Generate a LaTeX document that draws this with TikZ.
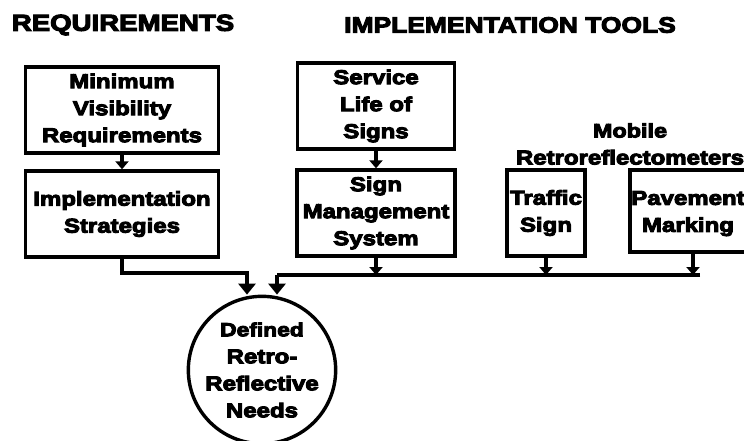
\documentclass[tikz,border=0pt]{standalone}
\usepackage{fontspec}
\usepackage{tikz}
\usetikzlibrary{arrows.meta}
\newfontfamily\heavy[FakeBold=5,FakeStretch=1.2]{Liberation Sans Bold}
\tikzset{
  font={\heavy\fontsize{20pt}{27pt}\selectfont}}

\begin{document}
\begin{tikzpicture}[x=1pt,y=-1pt,line width=3.4pt]
\tikzstyle{every node}+=[inner sep=0pt,align=center]
\tikzstyle{block}=[draw,black,minimum height=86pt]
\tikzstyle{feed}=[-{Triangle[width=13pt,length=8pt]}]
\tikzstyle{merge}=[-{Triangle[width=17pt,length=11pt]}]
\useasboundingbox (0,0) rectangle (744,440);
% headings
\node (req) at (123,25) {\fontsize{23pt}{23pt}\selectfont REQUIREMENTS};
\node (tools) at (510,25) {\fontsize{22pt}{22pt}\selectfont IMPLEMENTATION TOOLS};
% requirements column
\node[block,minimum width=193pt] (minvis) at (122,110) {Minimum\\Visibility\\Requirements};
\node[block,minimum width=193pt] (strat) at (122,214) {Implementation\\Strategies};
% tools columns
\node[block,minimum width=157pt] (life) at (376,106) {Service\\Life of\\Signs};
\node[block,minimum width=158pt] (sms) at (376,213) {Sign\\Management\\System};
\node (mobile) at (630,144) {\fontsize{19.5pt}{23pt}\selectfont Mobile\\Retroreflectometers};
\node[block,minimum width=78pt] (traffic) at (546,213) {Traffic\\Sign};
\node[block,minimum width=116pt,minimum height=82pt] (pave) at (688,211) {\strut Pavement\\Marking};
% result
\node[draw,circle,minimum size=140pt] (needs) at (262,370) {\fontsize{19pt}{25pt}\selectfont Defined\\Retro-\\Reflective\\Needs};
% bus points
\coordinate (lbend) at (strat.south |- 0,273);
\coordinate (ldrop) at (247,273);
\coordinate (rdrop) at (277,275);
\coordinate (rend) at (700,275);
\draw [feed] (minvis) -- (strat);
\draw [feed] (life) -- (sms);
\draw [feed] (sms.south) -- (sms.south |- rdrop);
\draw [feed] (traffic.south) -- (traffic.south |- rdrop);
\draw [feed] ([xshift=5pt]pave.south) -- ([xshift=5pt]pave.south |- rdrop);
\draw (rend) -- (rdrop);
\draw [merge] (strat.south) -- (lbend) -- (ldrop) -- (ldrop |- needs.north);
\draw [merge] (rdrop) -- (rdrop |- needs.north);
\end{tikzpicture}
\end{document}
